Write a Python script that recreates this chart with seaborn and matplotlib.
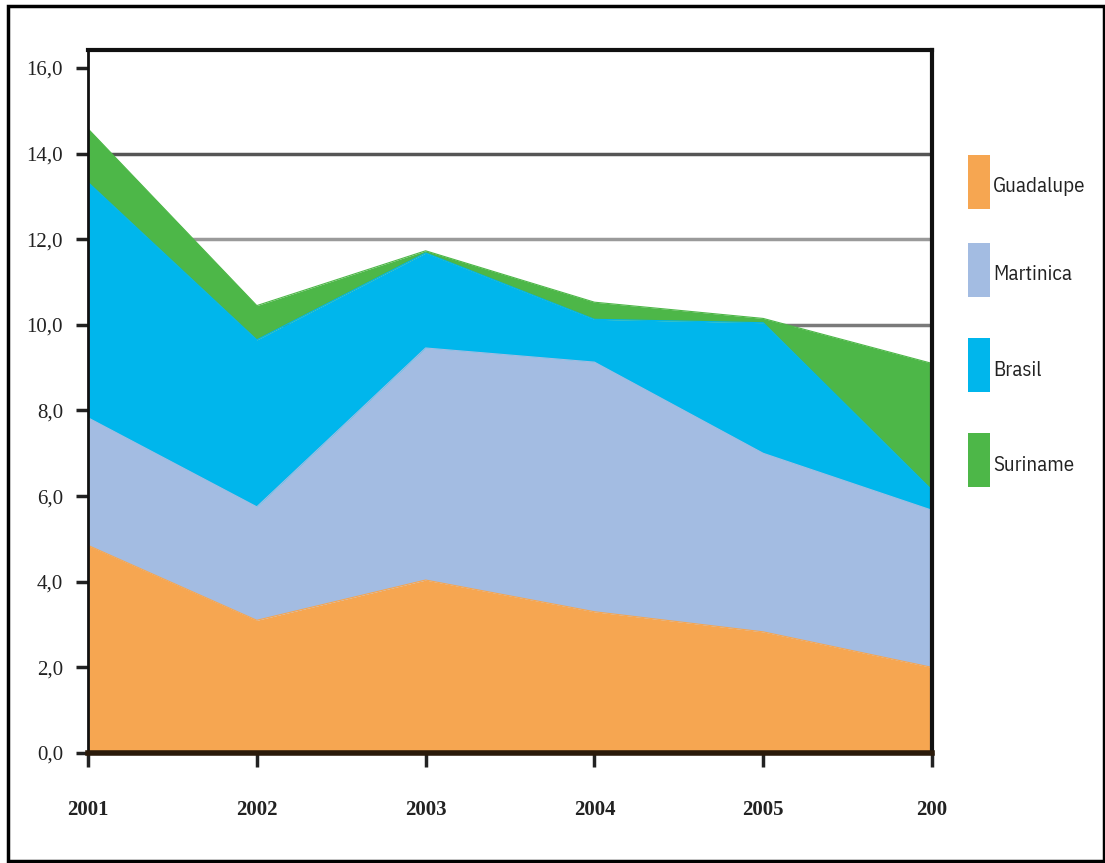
import matplotlib
matplotlib.use("Agg")
import matplotlib.pyplot as plt
import seaborn as sns
import numpy as np
from matplotlib.patches import Rectangle

years = ["2001", "2002", "2003", "2004", "2005", "200"]
guadalupe = [4.85, 3.10, 4.04, 3.30, 2.83, 2.00]
martinica = [2.98, 2.65, 5.42, 5.83, 4.17, 3.67]
brasil = [5.50, 3.90, 2.22, 1.00, 3.05, 0.47]
suriname = [1.25, 0.80, 0.05, 0.40, 0.10, 2.96]
series_names = ["Guadalupe", "Martinica", "Brasil", "Suriname"]
colors = ["#F6A651", "#A3BCE2", "#00B6EC", "#4DB748"]
yticks = [0, 2, 4, 6, 8, 10, 12, 14, 16]
ytick_labels = ["0,0", "2,0", "4,0", "6,0", "8,0", "10,0", "12,0", "14,0", "16,0"]

sns.set_theme(style="white")
plt.rcParams['font.family'] = ['Liberation Serif', 'DejaVu Serif']

W, H = 1105, 863
fig = plt.figure(figsize=(W / 100, H / 100), dpi=100)
ax = fig.add_axes([88/W, 1 - 753/H, (932-88)/W, (753-50)/H])

x = np.arange(len(years))
# gridlines
for yv, c in [(10, "#7a7a7a"), (12, "#9a9a9a"), (14, "#555555")]:
    ax.axhline(yv, color=c, lw=2.5, zorder=0)

ax.stackplot(x, guadalupe, martinica, brasil, suriname, colors=colors,
             zorder=1, linewidth=0)

cum = np.cumsum([guadalupe, martinica, brasil, suriname], axis=0)
for i in range(4):
    sns.lineplot(x=x, y=cum[i], ax=ax, color=colors[i], lw=0.8, zorder=2,
                 legend=False)

ax.set_xlim(0, len(years) - 1)
ax.set_ylim(0, 16.42)
ax.set_xticks(x)
ax.set_xticklabels(years, fontsize=15, fontweight="bold", color="#222222")
ax.set_yticks(yticks)
ax.set_yticklabels(ytick_labels, fontsize=15, color="#222222")
ax.tick_params(axis="x", direction="out", length=10, width=2.5, color="#222222", pad=24, bottom=True)
ax.tick_params(axis="y", direction="out", length=9, width=2.5, color="#222222", pad=9, left=True)

for side, w, c in [("left", 2.0, "#111111"), ("top", 3.0, "#111111"),
                   ("right", 3.0, "#111111"), ("bottom", 4.0, "#2a1a0a")]:
    ax.spines[side].set_visible(True)
    ax.spines[side].set_linewidth(w)
    ax.spines[side].set_color(c)

# legend (drawn manually to match the reference's tall swatches)
tops = [155, 243, 338, 433]
for name, c, top in zip(series_names, colors, tops):
    fig.add_artist(Rectangle((968/W, 1 - (top + 54)/H), 22/W, 54/H,
                             transform=fig.transFigure, facecolor=c,
                             edgecolor="none"))
    fig.text(993/W, 1 - (top + 32)/H, name, ha="left", va="center",
             fontsize=15, color="#222222",
             family=["Liberation Sans Narrow", "IBM Plex Sans Condensed", "DejaVu Sans"])

# outer frame
fig.add_artist(Rectangle((8/W, 2/H), 1 - 9/W, 1 - 8/H,
                         transform=fig.transFigure, fill=False,
                         edgecolor="black", lw=2.5))

fig.savefig("out.png", dpi=100)
